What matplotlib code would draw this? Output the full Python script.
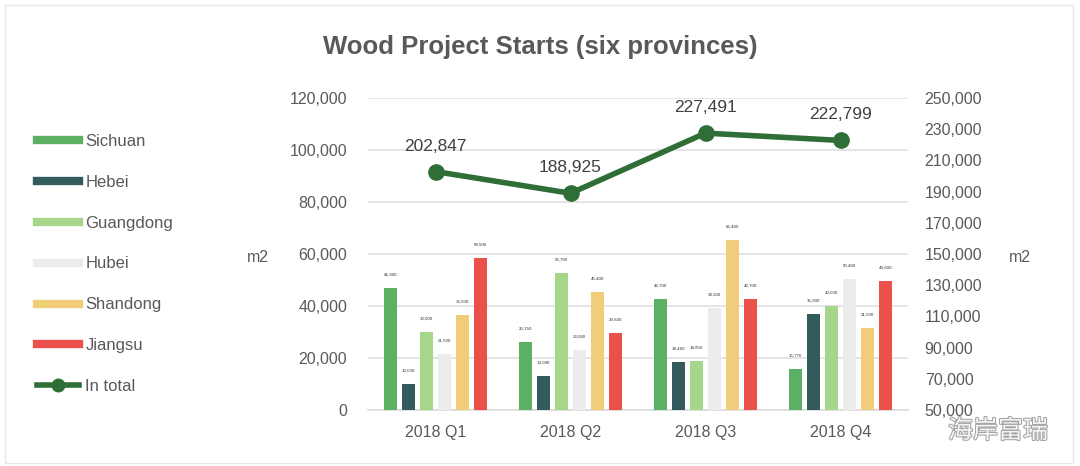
import matplotlib
matplotlib.use("Agg")
import matplotlib.pyplot as plt
import matplotlib.patheffects as pe
from matplotlib.lines import Line2D
from matplotlib.patches import Rectangle
import numpy as np

plt.rcParams["font.family"] = ["Liberation Sans", "DejaVu Sans"]

quarters = ["2018 Q1", "2018 Q2", "2018 Q3", "2018 Q4"]
provinces = ["Sichuan", "Hebei", "Guangdong", "Hubei", "Shandong", "Jiangsu"]
sichuan = [46900, 26150, 42700, 15770]
hebei = [10000, 13080, 18460, 36900]
guangdong = [30000, 52700, 18850, 40000]
hubei = [21500, 23080, 39200, 50400]
shandong = [36500, 45400, 65400, 31500]
jiangsu = [58500, 29600, 42700, 49600]
in_total = [202847, 188925, 227491, 222799]
left_ticks = [0, 20000, 40000, 60000, 80000, 100000, 120000]
right_ticks = list(range(50000, 250001, 20000))

series = [sichuan, hebei, guangdong, hubei, shandong, jiangsu]
colors = ["#5cb063", "#335b5c", "#a5d68a", "#ececec", "#f1cd7a", "#e9514a"]
line_color = "#2f6e36"
text_gray = "#595959"

fig = plt.figure(figsize=(10.8, 4.66), dpi=100)
ax = fig.add_axes([368/1080, 1-410/466, 540/1080, 312/466])
x = np.arange(len(quarters))
w = 13/135
pitch = 18/135
for i, (vals, c) in enumerate(zip(series, colors)):
    pos = x + (i - 2.5) * pitch
    ax.bar(pos, vals, width=w, color=c, zorder=3)
    for p, v in zip(pos, vals):
        ax.text(p, v + 4500, f"{v:,}", ha="center", va="bottom", fontsize=3.2,
                color="#333333", zorder=4)

ax.set_xlim(-0.5, 3.5)
ax.set_ylim(0, 120000)
ax.set_yticks(left_ticks)
ax.set_yticklabels([f"{t:,}" for t in left_ticks])
ax.set_xticks(x)
ax.set_xticklabels(quarters)
ax.tick_params(axis="both", length=0, labelsize=11.5, labelcolor=text_gray)
ax.tick_params(axis="y", pad=15)
ax.tick_params(axis="x", pad=11)
ax.grid(axis="y", color="#e3e3e3", linewidth=1.3, zorder=0)
for s in ["top", "right", "left"]:
    ax.spines[s].set_visible(False)
ax.spines["bottom"].set_color("#dddddd")
ax.spines["bottom"].set_linewidth(1.3)

ax2 = ax.twinx()
ax2.set_ylim(50000, 250000)
ax2.set_yticks(right_ticks)
ax2.set_yticklabels([f"{t:,}" for t in right_ticks])
ax2.tick_params(axis="y", length=0, labelsize=11.5, labelcolor=text_gray, pad=12)
for s in ["top", "right", "left", "bottom"]:
    ax2.spines[s].set_visible(False)
ax2.plot(x, in_total, color=line_color, linewidth=4, marker="o", markersize=11,
         zorder=5)
for xi, v in zip(x, in_total):
    ax2.annotate(f"{v:,}", (xi, v), xytext=(0, 13), textcoords="offset points",
                 ha="center", va="bottom", fontsize=12.5, color="#404040")

fig.text(540/1080, 1-47/466, "Wood Project Starts (six provinces)", ha="center",
         va="center", fontsize=18.5, fontweight="bold", color=text_gray)
fig.text(258/1080, 1-257/466, "m2", ha="center", va="center", fontsize=11.5, color=text_gray)
fig.text(1020/1080, 1-257/466, "m2", ha="center", va="center", fontsize=11.5, color=text_gray)

# legend
handles = [Line2D([0], [0], color=c, linewidth=6) for c in colors]
handles.append(Line2D([0], [0], color=line_color, linewidth=4, marker="o", markersize=9))
labels = provinces + ["In total"]
fig.legend(handles, labels, loc="upper left", bbox_to_anchor=(22/1080, 1-119/466),
           frameon=False, fontsize=12, labelcolor=text_gray, handlelength=2.5,
           handletextpad=0.4, labelspacing=1.55)

# border
fig.patches.append(Rectangle((5/1080, 3/466), 1068/1080, 458/466, transform=fig.transFigure,
                             fill=False, edgecolor="#e6e6e6", linewidth=1))

# watermark
fig.text(998/1080, 1-431/466, "海岸富瑞", ha="center", va="center", fontsize=18,
         family=["Noto Sans CJK SC", "DejaVu Sans"], color="white", alpha=0.9,
         path_effects=[pe.withStroke(linewidth=1.5, foreground="#9a9a9a")])

fig.savefig("out.png", dpi=100, facecolor="white")
